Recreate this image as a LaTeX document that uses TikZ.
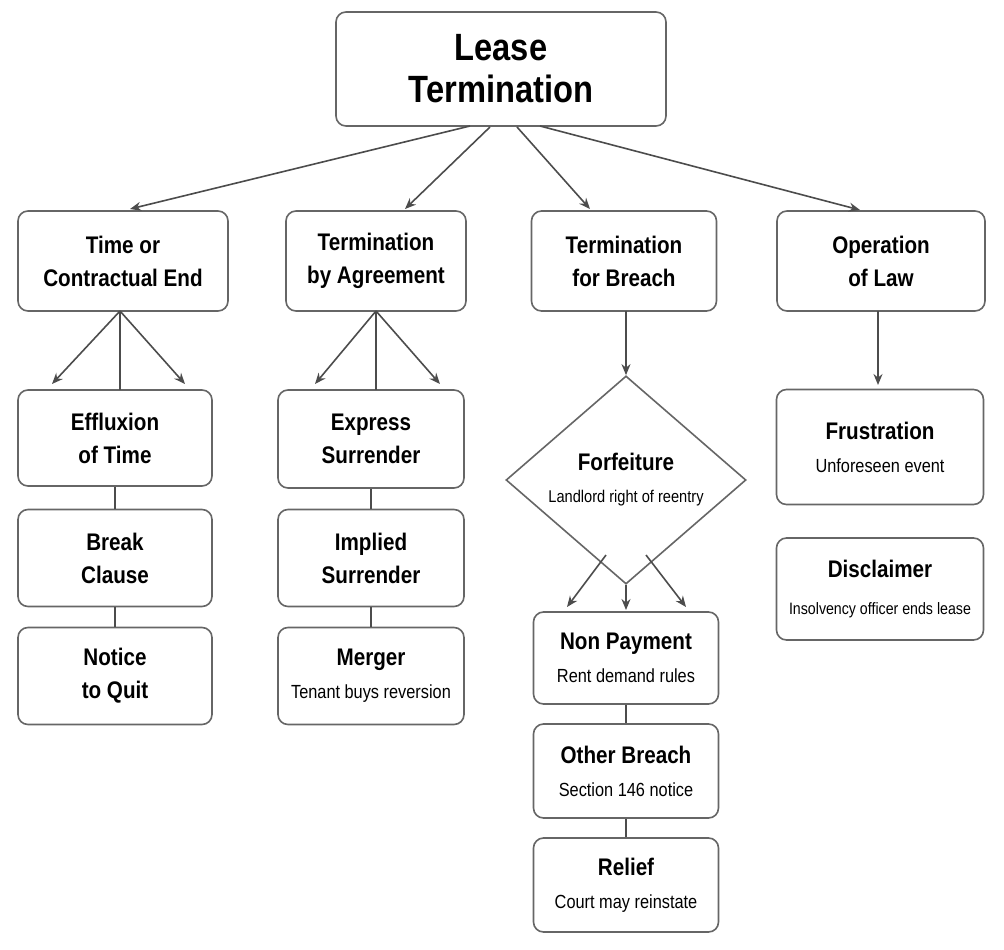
\documentclass[tikz,border=0pt]{standalone}
\usepackage{fontspec}
\setmainfont{Liberation Sans}[FakeStretch=0.86]
\usetikzlibrary{shapes.geometric,arrows.meta}
\newcommand\subtxt{\fontsize{19}{23}\selectfont\mdseries}
\begin{document}
\begin{tikzpicture}[x=1pt,y=-1pt,
  box/.style={draw=black!60,line width=1.6pt,rounded corners=10pt,fill=white,align=center,inner sep=0pt,font=\fontsize{24}{33}\selectfont\bfseries},
  arr/.style={draw=black!70,line width=1.6pt,-{Stealth[length=11pt,width=9pt]}},
  ln/.style={draw=black!70,line width=1.6pt}]
\useasboundingbox (0,0) rectangle (1004,950);
\node[box,minimum width=330pt,minimum height=114pt,font=\fontsize{38}{42}\selectfont\bfseries] (root) at (501,69) {Lease\\Termination};
\node[box,minimum width=210pt,minimum height=100pt] (t) at (123,261) {Time or\\Contractual End};
\node[box,minimum width=180pt,minimum height=100pt] (a) at (376,261) {Termination\\by Agreement};
\node[box,minimum width=185pt,minimum height=100pt] (b) at (624,261) {Termination\\for Breach};
\node[box,minimum width=208pt,minimum height=100pt] (o) at (881,261) {Operation\\of Law};
\coordinate (r1) at (470,126); \coordinate (r2) at (490,127); \coordinate (r3) at (517,127); \coordinate (r4) at (540,126);
\coordinate (e1) at (130,209); \coordinate (e2) at (405,209); \coordinate (e3) at (590,209); \coordinate (e4) at (860,210);
\draw[arr] (r1)--(e1); \draw[arr] (r2)--(e2); \draw[arr] (r3)--(e3); \draw[arr] (r4)--(e4);
% time
\node[box,minimum width=194pt,minimum height=96pt] (t1) at (115,438) {Effluxion\\of Time};
\node[box,minimum width=194pt,minimum height=97pt] (t2) at (115,558) {Break\\Clause};
\node[box,minimum width=194pt,minimum height=97pt] (t3) at (115,676) {Notice\\to Quit};
\coordinate (ts) at (120,311); \coordinate (tl) at (52,384); \coordinate (tr) at (185,384);
\draw[arr] (ts)--(tl); \draw[arr] (ts)--(tr); \draw[ln] (ts)--(120,390);
\draw[ln] (t1)--(t2); \draw[ln] (t2)--(t3);
% agreement
\node[box,minimum width=186pt,minimum height=98pt] (a1) at (371,439) {Express\\Surrender};
\node[box,minimum width=186pt,minimum height=97pt] (a2) at (371,558) {Implied\\Surrender};
\node[box,minimum width=186pt,minimum height=97pt] (a3) at (371,676) {Merger\\{\subtxt Tenant buys reversion}};
\coordinate (as) at (376,311); \coordinate (al) at (315,384); \coordinate (ar) at (440,384);
\draw[arr] (as)--(al); \draw[arr] (as)--(ar); \draw[ln] (as)--(376,390);
\draw[ln] (a1)--(a2); \draw[ln] (a2)--(a3);
% breach
\node[diamond,draw=black!60,line width=1.6pt,fill=white,minimum width=240pt,minimum height=184pt,inner sep=0pt,align=center,font=\fontsize{24}{30}\selectfont\bfseries] (f) at (626,480) {Forfeiture\\[2pt]{\fontsize{17}{21}\selectfont\mdseries Landlord right of reentry}};
\coordinate (bs) at (626,311);
\draw[arr] (bs)--(f.north);
\node[box,minimum width=185pt,minimum height=92pt] (b1) at (626,658) {Non Payment\\{\subtxt Rent demand rules}};
\node[box,minimum width=185pt,minimum height=94pt] (b2) at (626,771) {Other Breach\\{\subtxt Section 146 notice}};
\node[box,minimum width=185pt,minimum height=94pt] (b3) at (626,885) {Relief\\{\subtxt Court may reinstate}};
\coordinate (fl) at (567,607); \coordinate (fm) at (626,610); \coordinate (fr) at (686,607);
\coordinate (fa) at (606,555); \coordinate (fb) at (646,555);
\draw[arr] (fa)--(fl); \draw[arr] (f.south)--(fm); \draw[arr] (fb)--(fr);
\draw[ln] (b1)--(b2); \draw[ln] (b2)--(b3);
% operation
\node[box,minimum width=207pt,minimum height=115pt] (o1) at (880,447) {Frustration\\{\subtxt Unforeseen event}};
\node[box,minimum width=207pt,minimum height=102pt] (o2) at (880,589) {Disclaimer\\[4pt]{\fontsize{16.5}{20}\selectfont\mdseries Insolvency officer ends lease}};
\coordinate (os) at (878,311); \coordinate (oe) at (878,385);
\draw[arr] (os)--(oe);
\end{tikzpicture}
\end{document}
